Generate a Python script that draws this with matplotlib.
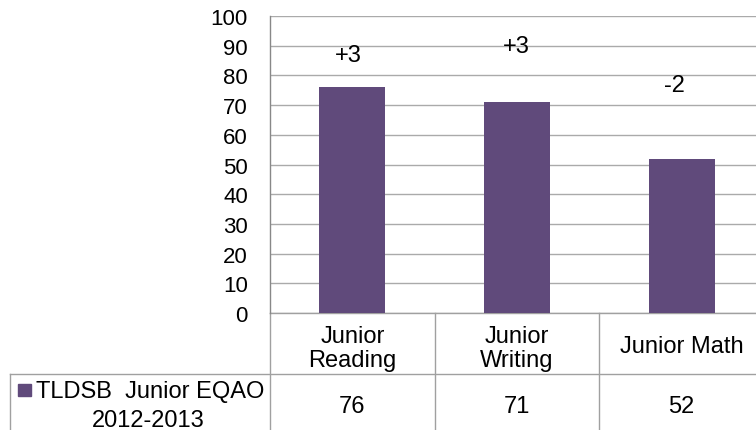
import matplotlib.pyplot as plt
from matplotlib.patches import Rectangle

categories = ['Junior\nReading', 'Junior\nWriting', 'Junior Math']
scores = [76, 71, 52]
changes = ['+3', '+3', '-2']
series_name = 'TLDSB  Junior EQAO'
series_years = '2012-2013'
yticks = list(range(0, 101, 10))

bar_color = '#604a7b'
grid_color = '#aaaaaa'
line_color = '#a0a0a0'

plt.rcParams['font.family'] = ['Liberation Sans', 'DejaVu Sans']

W, H = 756, 431
fig = plt.figure(figsize=(W / 100, H / 100), dpi=100)

# plot area in pixels (right edge runs past the canvas)
left, right, top, bottom = 270, 764, 17, 314
ax = fig.add_axes([left / W, 1 - bottom / H, (right - left) / W, (bottom - top) / H])

x = [i + 0.5 for i in range(len(scores))]
ax.bar(x, scores, width=0.4, color=bar_color, zorder=3)
ax.set_xlim(0, 3)
ax.set_ylim(0, 100)
ax.set_yticks(yticks)
ax.set_xticks([])
ax.tick_params(axis='y', length=0, pad=16, labelsize=16)
ax.yaxis.grid(True, color=grid_color, linewidth=1.0, zorder=0)
for side in ['top', 'right', 'bottom']:
    ax.spines[side].set_visible(False)
ax.spines['left'].set_color('#888888')
ax.spines['left'].set_linewidth(1.0)

# change labels sit in free-floating boxes above the bars
change_x = [0.474, 1.494, 2.456]
change_base = [84.8, 87.9, 74.7]
for cx, lab, cy in zip(change_x, changes, change_base):
    ax.text(cx, cy, lab, ha='center', va='baseline', fontsize=17, zorder=4)

# data table below the plot
def ay(py):
    return (bottom - py) / (bottom - top)

def axx(px):
    return (px - left) / (right - left)

tr = ax.transAxes
row_mid = 375
kw = dict(transform=tr, color=line_color, linewidth=1.0, clip_on=False)
ax.plot([0, 1], [0, 0], **kw)
ax.plot([axx(10), 1], [ay(row_mid), ay(row_mid)], **kw)
ax.plot([axx(10), axx(10)], [ay(row_mid), ay(H + 5)], **kw)
for i in range(4):
    ax.plot([i / 3, i / 3], [0, ay(H + 5)], **kw)

for xi, cat, val in zip(x, categories, scores):
    lines = cat.split('\n')
    bases = [343, 367] if len(lines) == 2 else [353]
    for ln, b in zip(lines, bases):
        ax.text(xi / 3, ay(b), ln, transform=tr, ha='center', va='baseline',
                fontsize=17)
    ax.text(xi / 3, ay(413), str(val), transform=tr, ha='center', va='baseline',
            fontsize=17)

ax.add_patch(Rectangle((axx(18), ay(397)), axx(31) - axx(18), ay(385) - ay(397),
                       transform=tr, color=bar_color, clip_on=False))
ax.text(axx(36), ay(398), series_name, transform=tr, ha='left', va='baseline',
        fontsize=17)
ax.text(axx(148), ay(427), series_years, transform=tr, ha='center', va='baseline',
        fontsize=17)

fig.savefig('out.png', dpi=100)
